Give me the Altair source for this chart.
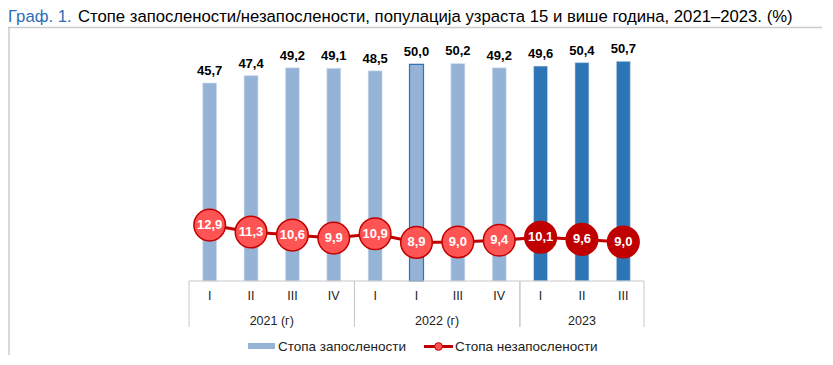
import altair as alt
import pandas as pd

# ---- data ----
quarters = ["I", "II", "III", "IV", "I", "I", "III", "IV", "I", "II", "III"]
years = ["2021 (г)"] * 4 + ["2022 (г)"] * 4 + ["2023"] * 3
employment = [45.7, 47.4, 49.2, 49.1, 48.5, 50.0, 50.2, 49.2, 49.6, 50.4, 50.7]
unemployment = [12.9, 11.3, 10.6, 9.9, 10.9, 8.9, 9.0, 9.4, 10.1, 9.6, 9.0]
highlight = [0, 0, 0, 0, 0, 1, 0, 0, 0, 0, 0]

title_lead = "Граф. 1."
title_rest = "Стопе запослености/незапослености, популација узраста 15 и више година, 2021–2023. (%)"
legend_emp = "Стопа запослености"
legend_unemp = "Стопа незапослености"

df = pd.DataFrame({
    "idx": list(range(len(quarters))),
    "quarter": quarters,
    "year": years,
    "emp": employment,
    "unemp": unemployment,
    "hl": highlight,
})
df["new"] = [1 if y == "2023" else 0 for y in years]
df["all"] = "all"

W, H = 455, 260
FONT = "Liberation Sans"
LIGHT_BLUE = "#95B3D7"
DARK_BLUE = "#2E75B6"
LIGHT_RED = "#FF5454"
DARK_RED = "#C00000"
GRID = "#C8C8C8"

xs = alt.Scale(domain=[-0.5, 10.5], nice=False, zero=False, padding=0)
ys = alt.Scale(domain=[0, 60], nice=False, padding=0)

base = alt.Chart(df)
X = alt.X("idx:Q", scale=xs, axis=None)
YE = alt.Y("emp:Q", scale=ys, axis=None)
YU = alt.Y("unemp:Q", scale=ys, axis=None)

bars_old = base.transform_filter("datum.new == 0").mark_bar(
    size=14, color=LIGHT_BLUE, stroke="#DCE6F2", strokeWidth=0.6
).encode(x=X, y=YE)
bars_new = base.transform_filter("datum.new == 1").mark_bar(
    size=14, color=DARK_BLUE, stroke="#DCE6F2", strokeWidth=0.6
).encode(x=X, y=YE)
bars_hl = base.transform_filter("datum.hl == 1").mark_bar(
    size=14, fill=LIGHT_BLUE, stroke=DARK_BLUE, strokeWidth=1.2
).encode(x=X, y=YE)

bar_labels = base.transform_calculate(
    lab="replace(format(datum.emp, '.1f'), '.', ',')"
).mark_text(font=FONT, fontSize=13, fontWeight="bold", color="#000000", dy=-8, baseline="alphabetic").encode(
    x=X, y=YE, text="lab:N"
)

line = base.mark_line(color=DARK_RED, strokeWidth=3).encode(x=X, y=YU)

circles_old = base.transform_filter("datum.new == 0").mark_circle(
    size=1000, opacity=1, color=LIGHT_RED, stroke=DARK_RED, strokeWidth=1.5
).encode(x=X, y=YU)
circles_new = base.transform_filter("datum.new == 1").mark_circle(
    size=1000, opacity=1, color=DARK_RED, stroke=DARK_RED, strokeWidth=1.5
).encode(x=X, y=YU)

circle_labels = base.transform_calculate(
    lab="replace(format(datum.unemp, '.1f'), '.', ',')"
).mark_text(font=FONT, fontSize=13, fontWeight="bold", color="#FFFFFF", baseline="middle").encode(
    x=X, y=YU, text="lab:N"
)

# baseline of the category axis
axis_line = base.transform_aggregate(alo="min(idx)", ahi="max(idx)", groupby=["all"]).transform_calculate(
    a="datum.alo - 0.5", b="datum.ahi + 0.5"
).mark_rule(color=GRID, strokeWidth=1).encode(
    x=alt.X("a:Q", scale=xs, axis=None), x2="b:Q", y=alt.value(H)
)

# group separators
seps_lo = base.transform_aggregate(vmin="min(idx)", groupby=["year"]).transform_calculate(
    plo="datum.vmin - 0.5"
).mark_rule(color=GRID, strokeWidth=1).encode(
    x=alt.X("plo:Q", scale=xs, axis=None), y=alt.value(H), y2=alt.value(H + 46)
)
seps_hi = base.transform_aggregate(vmax="max(idx)", groupby=["year"]).transform_calculate(
    phi="datum.vmax + 0.5"
).mark_rule(color=GRID, strokeWidth=1).encode(
    x=alt.X("phi:Q", scale=xs, axis=None), y=alt.value(H), y2=alt.value(H + 46)
)

q_labels = base.mark_text(font=FONT, fontSize=12.5, color="#222222", baseline="alphabetic").encode(
    x=X, y=alt.value(H + 19), text="quarter:N"
)

y_labels = base.transform_aggregate(mid="mean(idx)", groupby=["year"]).mark_text(
    font=FONT, fontSize=12.5, color="#222222", baseline="alphabetic"
).encode(
    x=alt.X("mid:Q", scale=xs, axis=None), y=alt.value(H + 44), text="year:N"
)

# legend (drawn manually)
leg_df = pd.DataFrame({"a": [legend_emp], "b": [legend_unemp]})
leg = alt.Chart(leg_df)
leg_rect = leg.mark_rect(color=LIGHT_BLUE).encode(
    x=alt.value(59), x2=alt.value(86), y=alt.value(322), y2=alt.value(328)
)
leg_t1 = leg.mark_text(font=FONT, fontSize=13.5, color="#222222", align="left", baseline="middle").encode(
    x=alt.value(89), y=alt.value(325.5), text="a:N"
)
leg_line = leg.mark_rule(color=DARK_RED, strokeWidth=3).encode(
    x=alt.value(235), x2=alt.value(264), y=alt.value(325.5)
)
leg_dot = leg.mark_circle(size=60, opacity=1, color=LIGHT_RED, stroke=DARK_RED, strokeWidth=1).encode(
    x=alt.value(249.5), y=alt.value(325.5)
)
leg_t2 = leg.mark_text(font=FONT, fontSize=13.5, color="#222222", align="left", baseline="middle").encode(
    x=alt.value(266), y=alt.value(325.5), text="b:N"
)

# title and frame
t_df = pd.DataFrame({"lead": [title_lead], "rest": [title_rest]})
tch = alt.Chart(t_df)
title1 = tch.mark_text(font=FONT, fontSize=16.7, color="#2E6DB4", align="left", baseline="alphabetic").encode(
    x=alt.value(-181), y=alt.value(0.5), text="lead:N"
)
title2 = tch.mark_text(font=FONT, fontSize=16.7, color="#000000", align="left", baseline="alphabetic").encode(
    x=alt.value(-111), y=alt.value(0.5), text="rest:N"
)
frame_top = tch.mark_rule(color="#CCCCCC", strokeWidth=1.5).encode(
    x=alt.value(-181), x2=alt.value(636), y=alt.value(6.5)
)
frame_left = tch.mark_rule(color="#CCCCCC", strokeWidth=1.5).encode(
    x=alt.value(-180), y=alt.value(6.5), y2=alt.value(340)
)

chart = alt.layer(
    frame_top, frame_left, title1, title2,
    bars_old, bars_new, bars_hl, bar_labels, line, circles_old, circles_new, circle_labels,
    axis_line, seps_lo, seps_hi, q_labels, y_labels,
    leg_rect, leg_t1, leg_line, leg_dot, leg_t2,
).properties(
    width=W, height=H,
    autosize=alt.AutoSizeParams(type="none"),
    padding={"left": 181, "top": 13, "right": 178, "bottom": 74},
).configure_view(strokeWidth=0)

chart.save("out.html", embed_options={"renderer": "svg", "actions": False})
